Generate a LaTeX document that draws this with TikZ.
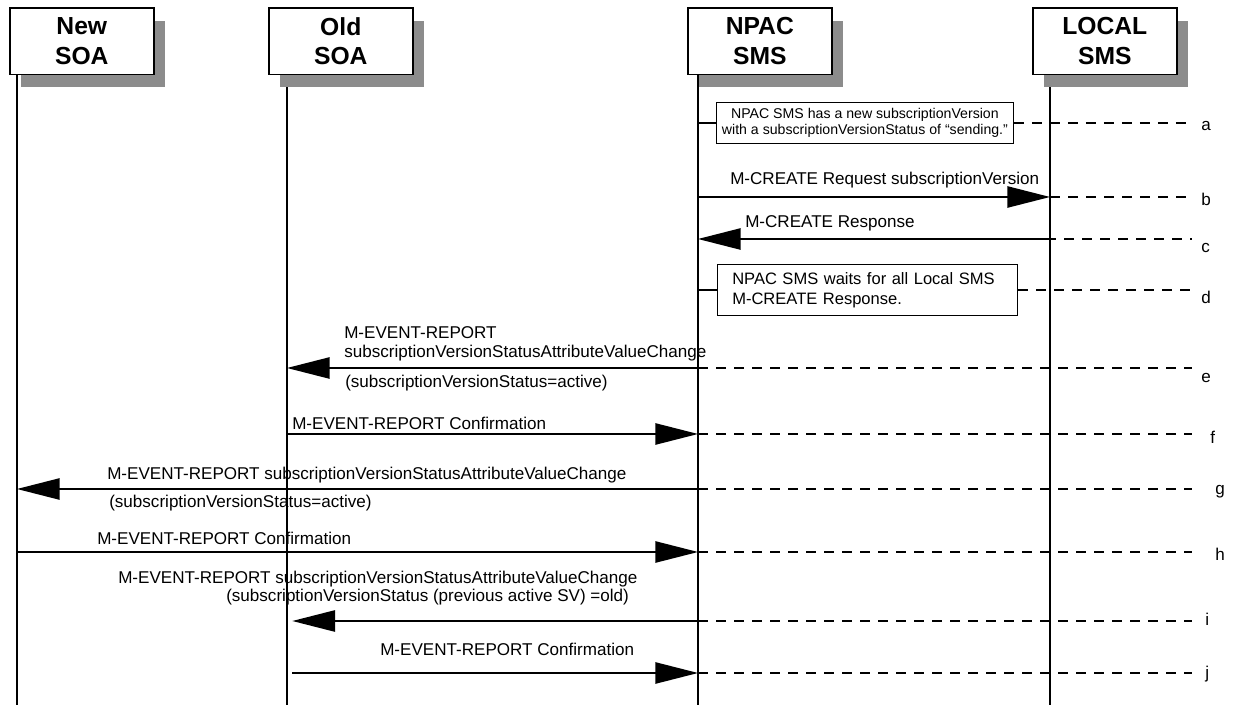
\documentclass[tikz,border=0pt]{standalone}
\usepackage{fontspec}
\setmainfont{Liberation Sans}
\usetikzlibrary{arrows.meta, positioning, shadows}
\definecolor{shade}{RGB}{140,140,140}

\begin{document}
\begin{tikzpicture}[x=0.75pt, y=-0.75pt,
    actor/.style={draw, line width=1.2pt, fill=white, minimum width=108pt,
      minimum height=50pt, inner sep=0pt, align=center,
      font=\fontsize{18.5}{22}\selectfont\bfseries,
      drop shadow={shadow xshift=8.25pt, shadow yshift=-9.75pt,
        fill=shade, opacity=1}},
    life/.style={line width=1.1pt},
    msg/.style={line width=1.1pt, -{Triangle[length=32pt, width=16pt]}},
    guide/.style={line width=0.9pt, dash pattern=on 7.5pt off 6pt},
    txt/.style={font=\fontsize{12.8}{14}\selectfont, inner sep=0pt,
      align=left},
    note/.style={draw, line width=0.9pt, fill=white, align=left},
]
\useasboundingbox (0,0) rectangle (1233,705);

% Lifelines
\foreach \n/\x in {newsoa/17, oldsoa/287, npac/698, local/1050} {
  \coordinate (\n-top) at (\x,74);
  \coordinate (\n-bot) at (\x,705);
  \draw[life] (\n-top) -- (\n-bot);
}

% Header boxes
\node[actor, anchor=north west] (newsoa) at (9,7) {New\\SOA};
\node[actor, anchor=north west] (oldsoa) at (268,7) {Old\\SOA};
\node[actor, anchor=north west] (npac) at (687,7) {NPAC\\SMS};
\node[actor, anchor=north west] (local) at (1032,7) {LOCAL\\SMS};

% Row points on each lifeline
\foreach \r/\y in {a/123, b/197, c/239, d/290, e/368,
  f/434, g/489, h/552, i/621, j/673} {
  \foreach \n/\x in {newsoa/17, oldsoa/287, npac/698, local/1050}
    \coordinate (\n-\r) at (\x,\y);
  \coordinate (end-\r) at (1192,\y);
}

% Step letters
\foreach \r/\x/\y in {a/1201/126, b/1201/199, c/1201/248, d/1201/297,
  e/1201/378, f/1210/437, g/1215/492, h/1215/554, i/1205/619,
  j/1205/674}
  \node[txt, anchor=west] (tag-\r) at (\x,\y) {\r};

% Notes
\node[note, anchor=west, inner xsep=4pt, inner ysep=4pt, align=center,
  font=\fontsize{10.6}{12.5}\selectfont] (note-a) at (716,123)
  {NPAC SMS has a new subscriptionVersion\\
   with a subscriptionVersionStatus of “sending.”};
\node[note, anchor=west, inner xsep=11pt, text width=203pt,
  minimum height=38pt, font=\fontsize{12.4}{15}\selectfont] (note-d)
  at (717,290) {NPAC SMS waits for all Local SMS\\M-CREATE Response.};
\draw[life] (npac-a) -- (note-a);
\draw[life] (npac-d) -- (note-d);
\draw[guide] (note-a.east) -- (note-a.east -| end-a);
\draw[guide] (note-d.east) -- (note-d.east -| end-d);

% Messages
\draw[msg] (npac-b) -- (local-b);
\draw[msg] (local-c) -- (npac-c);
\draw[msg] (npac-e) -- (oldsoa-e);
\draw[msg] (oldsoa-f) -- (npac-f);
\draw[msg] (npac-g) -- (newsoa-g);
\draw[msg] (newsoa-h) -- (npac-h);
\draw[msg, shorten <=-7pt, shorten >=4pt] (npac-i) -- (oldsoa-i);
\draw[msg, shorten <=4pt] (oldsoa-j) -- (npac-j);

% Dashed run-outs
\draw[guide] (local-b) -- (end-b);
\draw[guide, shorten <=-30pt] (local-c) -- (end-c);
\foreach \r in {e,f,g,h,i,j}
  \draw[guide] (npac-\r) -- (end-\r);

% Message texts
\node[txt, anchor=west] (lbl-b) at (730,180)
  {M-CREATE Request subscriptionVersion};
\node[txt, anchor=west] (lbl-c) at (745,223) {M-CREATE Response};
\node[txt, anchor=south west] (lbl-e) at (344,361)
  {M-EVENT-REPORT\\subscriptionVersionStatusAttributeValueChange};
\node[txt, anchor=west] (lbl-e2) at (345,383)
  {(subscriptionVersionStatus=active)};
\node[txt, anchor=west] (lbl-f) at (292,423)
  {M-EVENT-REPORT Confirmation};
\node[txt, anchor=west] (lbl-g) at (107,475)
  {M-EVENT-REPORT subscriptionVersionStatusAttributeValueChange};
\node[txt, anchor=west] (lbl-g2) at (109,503)
  {(subscriptionVersionStatus=active)};
\node[txt, anchor=west] (lbl-h) at (97,538)
  {M-EVENT-REPORT Confirmation};
\node[txt, anchor=west] (lbl-i) at (118,579)
  {M-EVENT-REPORT subscriptionVersionStatusAttributeValueChange};
\node[txt, anchor=west] (lbl-i2) at (226,597)
  {(subscriptionVersionStatus (previous active SV) =old)};
\node[txt, anchor=west] (lbl-j) at (380,649)
  {M-EVENT-REPORT Confirmation};

\end{tikzpicture}
\end{document}
